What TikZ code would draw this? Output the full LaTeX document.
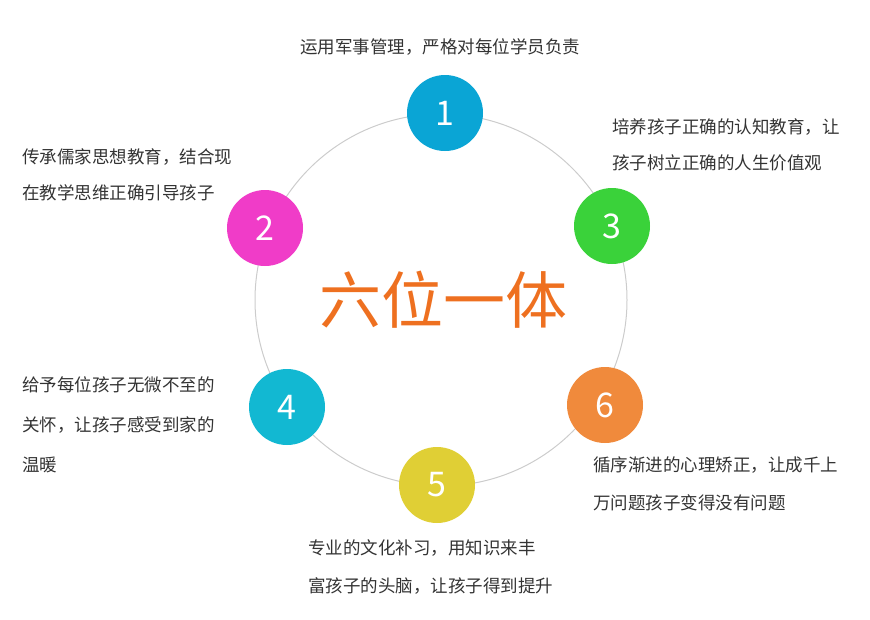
\documentclass[tikz,border=0pt]{standalone}
\usepackage{fontspec}
\setmainfont{Noto Sans CJK SC}
\usetikzlibrary{positioning}
\definecolor{cOne}{HTML}{0AA5D5}
\definecolor{cTwo}{HTML}{F03CC8}
\definecolor{cThree}{HTML}{3AD23A}
\definecolor{cFour}{HTML}{12B8D2}
\definecolor{cFive}{HTML}{E0CF35}
\definecolor{cSix}{HTML}{F08A3C}
\definecolor{cTitle}{HTML}{EE7020}
\definecolor{txt}{HTML}{333333}
\begin{document}
\begin{tikzpicture}[x=1pt, y=-1pt,
	ball/.style={circle, minimum size=76pt, inner sep=0pt, text=white,
		font=\fontsize{34}{34}\selectfont},
	note/.style={anchor=west, inner sep=0pt, text=txt,
		font=\fontsize{17.5}{17.5}\selectfont}]
	\useasboundingbox (0,0) rectangle (870,619);
	\draw[black!20, line width=1pt] (441,300) circle (186pt);
	\node[text=cTitle, font=\fontsize{62}{62}\selectfont] (mid) at (443,300) {六位一体};

	\node[ball, fill=cOne] (b1) at (445,113) {1};
	\node[ball, fill=cTwo] (b2) at (265,228) {2};
	\node[ball, fill=cThree] (b3) at (612,226) {3};
	\node[ball, fill=cFour] (b4) at (287,407) {4};
	\node[ball, fill=cFive] (b5) at (437,485) {5};
	\node[ball, fill=cSix] (b6) at (605,405) {6};

	\node[note] (t1) at (300,47) {运用军事管理，严格对每位学员负责};
	\node[note] (t3a) at (612,127) {培养孩子正确的认知教育，让};
	\node[note] (t3b) at (612,163) {孩子树立正确的人生价值观};
	\node[note] (t2a) at (22,157) {传承儒家思想教育，结合现};
	\node[note] (t2b) at (22,193) {在教学思维正确引导孩子};
	\node[note] (t4a) at (22,385) {给予每位孩子无微不至的};
	\node[note] (t4b) at (22,425) {关怀，让孩子感受到家的};
	\node[note] (t4c) at (22,465) {温暖};
	\node[note] (t6a) at (593,465) {循序渐进的心理矫正，让成千上};
	\node[note] (t6b) at (593,503) {万问题孩子变得没有问题};
	\node[note] (t5a) at (308,548) {专业的文化补习，用知识来丰};
	\node[note] (t5b) at (308,586) {富孩子的头脑，让孩子得到提升};
\end{tikzpicture}
\end{document}
